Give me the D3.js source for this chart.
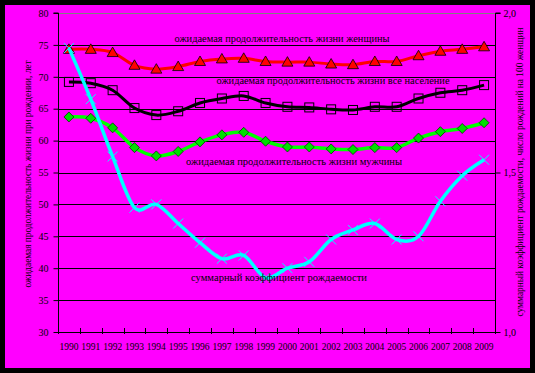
<!DOCTYPE html>
<html><head><meta charset="utf-8">
<script src="https://cdn.jsdelivr.net/npm/d3@7"></script>
<style>html,body{margin:0;padding:0;background:#000;}svg{display:block;}</style>
</head><body>
<script>
const years = ["1990","1991","1992","1993","1994","1995","1996","1997","1998","1999","2000","2001","2002","2003","2004","2005","2006","2007","2008","2009"];
const women = [74.3,74.3,73.8,71.8,71.2,71.6,72.4,72.8,72.9,72.4,72.3,72.3,72.0,71.9,72.4,72.4,73.3,74.0,74.3,74.7];
const total = [69.2,69.0,67.9,65.1,64.0,64.6,65.9,66.6,67.0,65.9,65.3,65.2,64.9,64.8,65.3,65.3,66.6,67.5,67.9,68.7];
const men   = [63.7,63.5,62.0,58.9,57.6,58.3,59.8,60.9,61.3,59.9,59.0,59.0,58.7,58.6,58.9,58.9,60.4,61.4,61.9,62.8];
const tfr   = [1.89,1.73,1.55,1.39,1.40,1.34,1.28,1.23,1.24,1.17,1.20,1.22,1.29,1.32,1.34,1.29,1.30,1.41,1.49,1.54];
const leftTicks = [30,35,40,45,50,55,60,65,70,75,80];
const rightTicks = [1.0,1.5,2.0];
const leftTitle = "ожидаемая продолжительность жизни при рождении, лет";
const rightTitle = "суммарный коэффициент рождаемости, число рождений на 100 женщин";
const labelWomen = "ожидаемая продолжительность жизни женщины";
const labelTotal = "ожидаемая продолжительность жизни все население";
const labelMen = "ожидаемая продолжительность жизни мужчины";
const labelTfr = "суммарный коэффициент рождаемости";

const W = 535, H = 373;
const X0 = 58, X1 = 495, YT = 13, YB = 332;
const font = "'Liberation Serif','Times New Roman',serif";

const svg = d3.select("body").append("svg").attr("width", W).attr("height", H);
svg.append("rect").attr("width", W).attr("height", H).attr("fill", "#000");
svg.append("rect").attr("x", 5).attr("y", 5).attr("width", 525).attr("height", 363).attr("fill", "#FF00FF");

const x = d3.scaleBand().domain(years).range([X0, X1]).padding(0);
const yL = d3.scaleLinear().domain([30, 80]).range([YB, YT]);
const yR = d3.scaleLinear().domain([1, 2]).range([YB, YT]);
const cx = d => x(d) + x.bandwidth() / 2;

// gridlines
svg.append("g").selectAll("line").data(leftTicks.filter(t => t > 30)).join("line")
  .attr("x1", X0).attr("x2", X1)
  .attr("y1", d => Math.round(yL(d)) + 0.5).attr("y2", d => Math.round(yL(d)) + 0.5)
  .attr("stroke", d => d === 80 ? "#808080" : "#000").attr("stroke-width", 1);

// left axis
const gl = svg.append("g").attr("transform", `translate(${X0 + 0.5},0)`)
  .call(d3.axisLeft(yL).tickValues(leftTicks).tickSize(5).tickPadding(5).tickFormat(d3.format("d")));
// right axis
const gr = svg.append("g").attr("transform", `translate(${X1 + 0.5},0)`)
  .call(d3.axisRight(yR).tickValues(rightTicks).tickSize(5).tickPadding(3).tickFormat(d => d3.format(".1f")(d).replace(".", ",")));
// bottom axis
const gb = svg.append("g").attr("transform", `translate(0,${YB + 0.5})`)
  .call(d3.axisBottom(x).tickSize(0).tickPadding(11));
// band boundary ticks
svg.append("g").selectAll("line").data(d3.range(years.length + 1)).join("line")
  .attr("x1", i => Math.round(X0 + i * x.bandwidth()) + 0.5)
  .attr("x2", i => Math.round(X0 + i * x.bandwidth()) + 0.5)
  .attr("y1", YB - 4).attr("y2", YB + 2)
  .attr("stroke", "#000");

[gl, gr, gb].forEach(g => {
  g.select(".domain").attr("stroke", "#000").attr("stroke-width", 1);
  g.selectAll(".tick line").attr("stroke", "#000");
  g.selectAll("text").attr("fill", "#000").attr("font-family", font).attr("font-size", 10);
});
gb.selectAll("text").attr("font-size", 9.5);
gl.select(".domain").attr("d", `M-5,${YT}H0V${YB}`);
gr.select(".domain").attr("d", `M5,${YT}H0V${YB}`);
gb.select(".domain").attr("d", `M${X0},0H${X1}`);

// axis titles
svg.append("text").attr("transform", `translate(31,174) rotate(-90)`)
  .attr("text-anchor", "middle").attr("font-family", font).attr("font-size", 10)
  .attr("textLength", 227).attr("lengthAdjust", "spacingAndGlyphs").text(leftTitle);
svg.append("text").attr("transform", `translate(523,172) rotate(-90)`)
  .attr("text-anchor", "middle").attr("font-family", font).attr("font-size", 10)
  .attr("textLength", 289).attr("lengthAdjust", "spacingAndGlyphs").text(rightTitle);

const curve = d3.curveCardinal.tension(0);
function series(vals, yScale, color, width) {
  const line = d3.line().x((d, i) => cx(years[i])).y(d => yScale(d)).curve(curve);
  svg.append("path").datum(vals).attr("d", line).attr("fill", "none")
    .attr("stroke", color).attr("stroke-width", width).attr("stroke-linejoin", "round");
}

// women
series(women, yL, "#FF0000", 3);
svg.append("g").selectAll("path").data(women).join("path")
  .attr("transform", (d, i) => `translate(${cx(years[i])},${yL(d)})`)
  .attr("d", "M0,-5.5L5.5,4L-5.5,4Z").attr("fill", "#FF0000").attr("stroke", "#000").attr("stroke-width", 0.8);

// total
series(total, yL, "#000", 3);
svg.append("g").selectAll("rect").data(total).join("rect")
  .attr("x", (d, i) => cx(years[i]) - 4.5).attr("y", d => yL(d) - 4.5)
  .attr("width", 9).attr("height", 9).attr("fill", "none").attr("stroke", "#000").attr("stroke-width", 1);

// men
series(men, yL, "#00FF00", 3.5);
svg.append("g").selectAll("path").data(men).join("path")
  .attr("transform", (d, i) => `translate(${cx(years[i])},${yL(d)})`)
  .attr("d", "M0,-5L5,0L0,5L-5,0Z").attr("fill", "#00DD00").attr("stroke", "#004000").attr("stroke-width", 0.8);

// tfr
series(tfr, yR, "#00FFFF", 3.5);
svg.append("g").selectAll("path").data(tfr).join("path")
  .attr("transform", (d, i) => `translate(${cx(years[i])},${yR(d)})`)
  .attr("d", "M-5,-5L5,5M-5,5L5,-5").attr("fill", "none").attr("stroke", "#00FFFF").attr("stroke-width", 1);

// annotations
function label(t, cxp, cy, len) {
  svg.append("text").attr("x", cxp).attr("y", cy).attr("text-anchor", "middle")
    .attr("dominant-baseline", "middle").attr("font-family", font).attr("font-size", 10.5)
    .attr("textLength", len).attr("lengthAdjust", "spacingAndGlyphs").attr("fill", "#000").text(t);
}
label(labelWomen, 282, 40, 215);
label(labelTotal, 333, 82, 233);
label(labelMen, 294, 163, 216);
label(labelTfr, 279, 279, 176);
</script>
</body></html>
